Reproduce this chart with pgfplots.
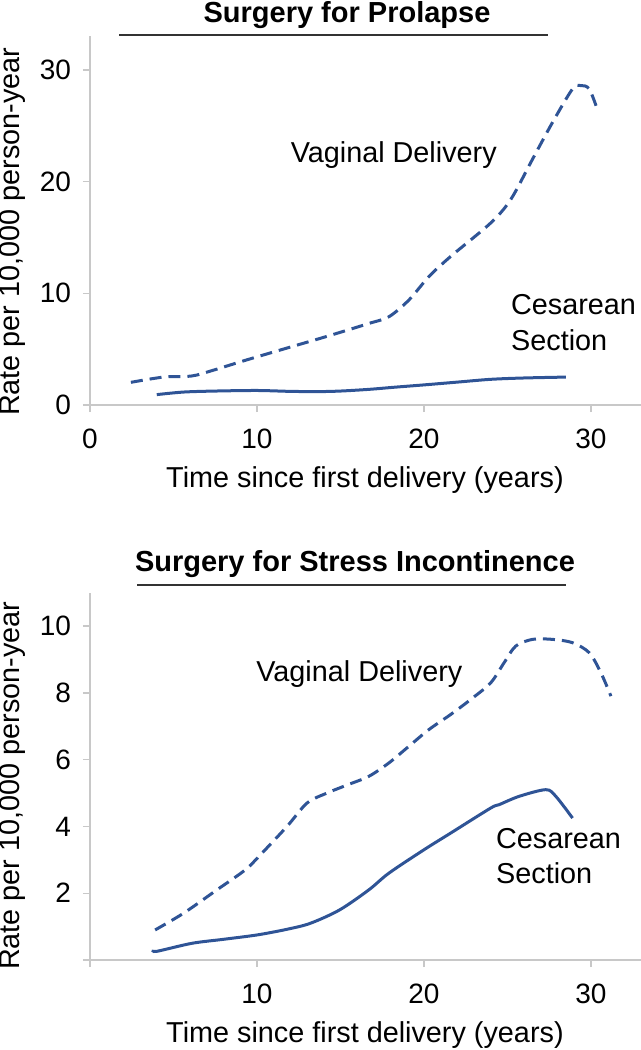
\documentclass[border=0pt]{standalone}
\usepackage{pgfplots}
\pgfplotsset{compat=1.18}
\usepackage{fontspec}
\setmainfont{Liberation Sans}
\definecolor{lineblue}{RGB}{47,84,150}
\definecolor{axgray}{RGB}{200,200,200}
\pgfplotsset{
  myaxis/.style={
    scale only axis, width=275.5pt,
    axis lines=left,
    xmin=0, xmax=33, ymin=0,
    tick align=outside, major tick length=3.5pt,
    tick style={axgray, line width=0.7pt},
    axis line style={axgray, line width=0.7pt, -},
    tick label style={font=\fontsize{14}{16}\selectfont},
    xticklabel style={yshift=-5pt},
    yticklabel style={xshift=-2.5pt},
    /pgf/number format/assume math mode=true,
    label style={font=\fontsize{14.4}{17}\selectfont},
    xlabel={Time since first delivery (years)},
    ylabel={Rate per 10,000 person-year},
    xlabel style={at={(axis description cs:0.499,-0.203)}, anchor=center},
    ylabel style={at={(axis description cs:-0.14,0.47)}, anchor=center},
    clip=false,
  },
}
\tikzset{
  vag/.style={lineblue, line width=1.5pt, dash pattern=on 6pt off 3.5pt, smooth},
  ces/.style={lineblue, line width=1.5pt, smooth},
  lab/.style={anchor=base west, inner sep=0pt, font=\fontsize{14.4}{17}\selectfont},
}
\begin{document}
\begin{tikzpicture}
\path[use as bounding box] (0,0) rectangle (320.5pt,-525pt);
% top chart
\node[anchor=base, inner sep=0pt, font=\bfseries\fontsize{14.5}{17}\selectfont] at (173.5pt,-11pt) {Surgery for Prolapse};
\draw[line width=1pt, black!80] (59.5pt,-17.5pt) -- (274pt,-17.5pt);
\begin{axis}[myaxis, at={(45pt,-202.5pt)}, anchor=south west,
  height=184.3pt, ymax=33,
  xtick={0,10,20,30}, ytick={0,10,20,30}]
\addplot[vag] coordinates {(2.45,2.03)(4.4,2.5)(6.1,2.6)(7.35,3.1)(9.3,4.0)(11.8,5.1)(14.2,6.15)(16.7,7.3)(17.9,7.9)(19.1,9.4)(20.3,11.5)(21.6,13.3)(24.0,16.3)(25.2,18.4)(26.5,22)(27.7,25.3)(28.9,28.3)(29.4,28.6)(29.9,28.3)(30.4,26.4)};
\addplot[ces] coordinates {(4.0,0.93)(5.6,1.16)(7.5,1.25)(10,1.3)(12,1.22)(13.7,1.2)(15,1.25)(16.7,1.4)(18.3,1.6)(20,1.8)(22,2.05)(24,2.3)(26,2.42)(28.5,2.5)};
\node[lab] at (axis cs:12.0,21.75) {Vaginal Delivery};
\node[lab] at (axis cs:25.2,8.06) {Cesarean};
\node[lab] at (axis cs:25.2,4.9) {Section};
\end{axis}
% bottom chart
\node[anchor=base, inner sep=0pt, font=\bfseries\fontsize{14.5}{17}\selectfont] at (177.5pt,-285.5pt) {Surgery for Stress Incontinence};
\draw[line width=1pt, black!80] (68.5pt,-292.5pt) -- (283pt,-292.5pt);
\begin{axis}[myaxis, at={(45pt,-480pt)}, anchor=south west,
  height=183.7pt, ymax=11,
  xtick={0,10,20,30}, xticklabels={,10,20,30},
  ytick={0,2,4,6,8,10}, yticklabels={,2,4,6,8,10},
  ylabel style={at={(axis description cs:-0.14,0.474)}, anchor=center},
  xlabel style={at={(axis description cs:0.499,-0.204)}, anchor=center}]
\addplot[vag] coordinates {(3.9,0.9)(5.6,1.4)(7.6,2.1)(9.3,2.7)(10.3,3.2)(11.8,4.0)(13.0,4.7)(14.2,5.0)(15.4,5.24)(16.7,5.5)(17.9,5.9)(19.1,6.4)(20.3,6.9)(21.6,7.35)(22.8,7.8)(24.0,8.3)(24.8,8.9)(25.5,9.4)(26.5,9.6)(27.7,9.6)(28.9,9.5)(29.9,9.2)(30.6,8.6)(31.2,7.9)};
\addplot[ces] coordinates {(3.8,0.3)(4.0,0.26)(6.1,0.5)(8,0.62)(10,0.75)(11.8,0.92)(13.2,1.1)(14.95,1.5)(16.7,2.1)(17.9,2.6)(20,3.3)(21.6,3.8)(24.0,4.55)(24.5,4.65)(25.7,4.9)(27.3,5.1)(27.9,4.9)(28.9,4.25)};
\node[lab] at (axis cs:9.94,8.33) {Vaginal Delivery};
\node[lab] at (axis cs:24.3,3.35) {Cesarean};
\node[lab] at (axis cs:24.3,2.3) {Section};
\end{axis}
\end{tikzpicture}
\end{document}
